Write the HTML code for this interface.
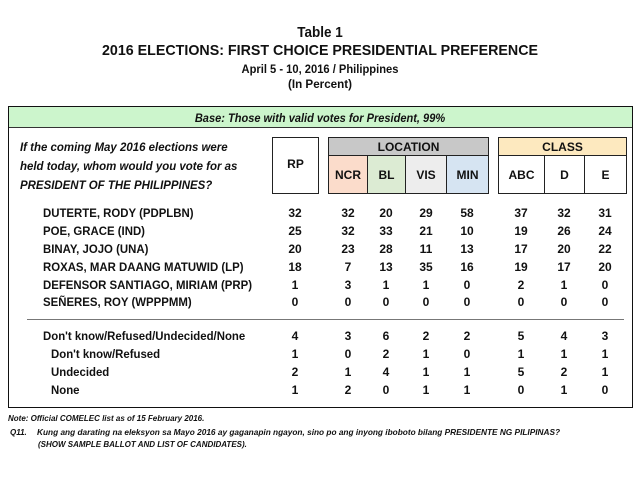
<!DOCTYPE html>
<html><head><meta charset="utf-8"><style>
body{margin:0;width:640px;height:480px;background:#fff;position:relative;overflow:hidden;font-family:"Liberation Sans",Arial,sans-serif;font-weight:bold;color:#111}
.a{position:absolute;white-space:nowrap}
.c{text-align:center}
.t{left:0;width:640px;text-align:center}
.box{position:absolute;border:1px solid #222;box-sizing:border-box}
.num{position:absolute;width:30px;text-align:center;font-size:12px}
.lab{position:absolute;font-size:12px;transform:scaleX(.95);transform-origin:left center;white-space:nowrap}
.q{position:absolute;font-size:12px;font-style:italic;transform:scaleX(.955);transform-origin:left center;white-space:nowrap}
</style></head><body>
<div class="a t" style="top:24px;font-size:15px;transform:scaleX(.9)">Table 1</div>
<div class="a t" style="top:42px;font-size:15px;transform:scaleX(.95)">2016 ELECTIONS: FIRST CHOICE PRESIDENTIAL PREFERENCE</div>
<div class="a t" style="top:62px;font-size:12px;transform:scaleX(.93)">April 5 - 10, 2016 / Philippines</div>
<div class="a t" style="top:77px;font-size:12px;transform:scaleX(.97)">(In Percent)</div>

<div class="box" style="left:8px;top:106px;width:625px;height:302px;border:1.5px solid #111"></div>
<div class="box" style="left:9px;top:107px;width:623px;height:21px;background:#ccf5cc;border:none;border-bottom:1px solid #333"></div>
<div class="a t" style="top:111px;font-size:12px;font-style:italic;transform:scaleX(.92)">Base: Those with valid votes for President, 99%</div>

<div class="q" style="left:20px;top:140px">If the coming May 2016 elections were</div>
<div class="q" style="left:20px;top:159px">held today, whom would you vote for as</div>
<div class="q" style="left:20px;top:178px">PRESIDENT OF THE PHILIPPINES?</div>

<div class="box" style="left:272px;top:137px;width:47px;height:57px"></div>
<div class="a c" style="left:272px;width:47px;top:157px;font-size:12px">RP</div>

<div class="box" style="left:328px;top:137px;width:161px;height:57px"></div>
<div class="box" style="left:328px;top:137px;width:161px;height:19px;background:#c8c8c8"></div>
<div class="a c" style="left:328px;width:161px;top:140px;font-size:12px">LOCATION</div>
<div class="box" style="left:328px;top:155px;width:40px;height:39px;background:#fbdccb"></div>
<div class="box" style="left:367px;top:155px;width:39px;height:39px;background:#dcebd3"></div>
<div class="box" style="left:405px;top:155px;width:42px;height:39px;background:#ededed"></div>
<div class="box" style="left:446px;top:155px;width:43px;height:39px;background:#d6e4f2"></div>
<div class="a c" style="left:328px;width:40px;top:168px;font-size:12px">NCR</div>
<div class="a c" style="left:367px;width:39px;top:168px;font-size:12px">BL</div>
<div class="a c" style="left:405px;width:42px;top:168px;font-size:12px">VIS</div>
<div class="a c" style="left:446px;width:43px;top:168px;font-size:12px">MIN</div>

<div class="box" style="left:498px;top:137px;width:129px;height:57px"></div>
<div class="box" style="left:498px;top:137px;width:129px;height:19px;background:#fde9bf"></div>
<div class="a c" style="left:498px;width:129px;top:140px;font-size:12px">CLASS</div>
<div class="box" style="left:498px;top:155px;width:47px;height:39px"></div>
<div class="box" style="left:544px;top:155px;width:41px;height:39px"></div>
<div class="box" style="left:584px;top:155px;width:43px;height:39px"></div>
<div class="a c" style="left:498px;width:47px;top:168px;font-size:12px">ABC</div>
<div class="a c" style="left:544px;width:41px;top:168px;font-size:12px">D</div>
<div class="a c" style="left:584px;width:43px;top:168px;font-size:12px">E</div>

<div style="position:absolute;left:27px;top:319px;width:597px;height:1px;background:#777"></div>

<div class="a" style="left:8px;top:414px;font-size:8px;font-style:italic;transform:scaleX(1.0);transform-origin:left">Note: Official COMELEC list as of 15 February 2016.</div>
<div class="a" style="left:10px;top:428px;font-size:8px;font-style:italic">Q11.</div>
<div class="a" style="left:37px;top:428px;font-size:8px;font-style:italic;transform:scaleX(1.035);transform-origin:left">Kung ang darating na eleksyon sa Mayo 2016 ay gaganapin ngayon, sino po ang inyong iboboto bilang PRESIDENTE NG PILIPINAS?</div>
<div class="a" style="left:38px;top:440px;font-size:8px;font-style:italic;transform:scaleX(1.0);transform-origin:left">(SHOW SAMPLE BALLOT AND LIST OF CANDIDATES).</div>

<div class="lab" style="left:43px;top:206px">DUTERTE, RODY (PDPLBN)</div>
<div class="lab" style="left:43px;top:224px">POE, GRACE (IND)</div>
<div class="lab" style="left:43px;top:242px">BINAY, JOJO (UNA)</div>
<div class="lab" style="left:43px;top:260px">ROXAS, MAR DAANG MATUWID (LP)</div>
<div class="lab" style="left:43px;top:278px">DEFENSOR SANTIAGO, MIRIAM (PRP)</div>
<div class="lab" style="left:43px;top:295px">SEÑERES, ROY (WPPPMM)</div>
<div class="lab" style="left:43px;top:329px">Don't know/Refused/Undecided/None</div>
<div class="lab" style="left:51px;top:347px">Don't know/Refused</div>
<div class="lab" style="left:51px;top:365px">Undecided</div>
<div class="lab" style="left:51px;top:383px">None</div>

<div class="num" style="left:280px;top:206px">32</div><div class="num" style="left:333px;top:206px">32</div><div class="num" style="left:371px;top:206px">20</div><div class="num" style="left:411px;top:206px">29</div><div class="num" style="left:452px;top:206px">58</div><div class="num" style="left:506px;top:206px">37</div><div class="num" style="left:549px;top:206px">32</div><div class="num" style="left:590px;top:206px">31</div>
<div class="num" style="left:280px;top:224px">25</div><div class="num" style="left:333px;top:224px">32</div><div class="num" style="left:371px;top:224px">33</div><div class="num" style="left:411px;top:224px">21</div><div class="num" style="left:452px;top:224px">10</div><div class="num" style="left:506px;top:224px">19</div><div class="num" style="left:549px;top:224px">26</div><div class="num" style="left:590px;top:224px">24</div>
<div class="num" style="left:280px;top:242px">20</div><div class="num" style="left:333px;top:242px">23</div><div class="num" style="left:371px;top:242px">28</div><div class="num" style="left:411px;top:242px">11</div><div class="num" style="left:452px;top:242px">13</div><div class="num" style="left:506px;top:242px">17</div><div class="num" style="left:549px;top:242px">20</div><div class="num" style="left:590px;top:242px">22</div>
<div class="num" style="left:280px;top:260px">18</div><div class="num" style="left:333px;top:260px">7</div><div class="num" style="left:371px;top:260px">13</div><div class="num" style="left:411px;top:260px">35</div><div class="num" style="left:452px;top:260px">16</div><div class="num" style="left:506px;top:260px">19</div><div class="num" style="left:549px;top:260px">17</div><div class="num" style="left:590px;top:260px">20</div>
<div class="num" style="left:280px;top:278px">1</div><div class="num" style="left:333px;top:278px">3</div><div class="num" style="left:371px;top:278px">1</div><div class="num" style="left:411px;top:278px">1</div><div class="num" style="left:452px;top:278px">0</div><div class="num" style="left:506px;top:278px">2</div><div class="num" style="left:549px;top:278px">1</div><div class="num" style="left:590px;top:278px">0</div>
<div class="num" style="left:280px;top:295px">0</div><div class="num" style="left:333px;top:295px">0</div><div class="num" style="left:371px;top:295px">0</div><div class="num" style="left:411px;top:295px">0</div><div class="num" style="left:452px;top:295px">0</div><div class="num" style="left:506px;top:295px">0</div><div class="num" style="left:549px;top:295px">0</div><div class="num" style="left:590px;top:295px">0</div>
<div class="num" style="left:280px;top:329px">4</div><div class="num" style="left:333px;top:329px">3</div><div class="num" style="left:371px;top:329px">6</div><div class="num" style="left:411px;top:329px">2</div><div class="num" style="left:452px;top:329px">2</div><div class="num" style="left:506px;top:329px">5</div><div class="num" style="left:549px;top:329px">4</div><div class="num" style="left:590px;top:329px">3</div>
<div class="num" style="left:280px;top:347px">1</div><div class="num" style="left:333px;top:347px">0</div><div class="num" style="left:371px;top:347px">2</div><div class="num" style="left:411px;top:347px">1</div><div class="num" style="left:452px;top:347px">0</div><div class="num" style="left:506px;top:347px">1</div><div class="num" style="left:549px;top:347px">1</div><div class="num" style="left:590px;top:347px">1</div>
<div class="num" style="left:280px;top:365px">2</div><div class="num" style="left:333px;top:365px">1</div><div class="num" style="left:371px;top:365px">4</div><div class="num" style="left:411px;top:365px">1</div><div class="num" style="left:452px;top:365px">1</div><div class="num" style="left:506px;top:365px">5</div><div class="num" style="left:549px;top:365px">2</div><div class="num" style="left:590px;top:365px">1</div>
<div class="num" style="left:280px;top:383px">1</div><div class="num" style="left:333px;top:383px">2</div><div class="num" style="left:371px;top:383px">0</div><div class="num" style="left:411px;top:383px">1</div><div class="num" style="left:452px;top:383px">1</div><div class="num" style="left:506px;top:383px">0</div><div class="num" style="left:549px;top:383px">1</div><div class="num" style="left:590px;top:383px">0</div>
</body></html>
